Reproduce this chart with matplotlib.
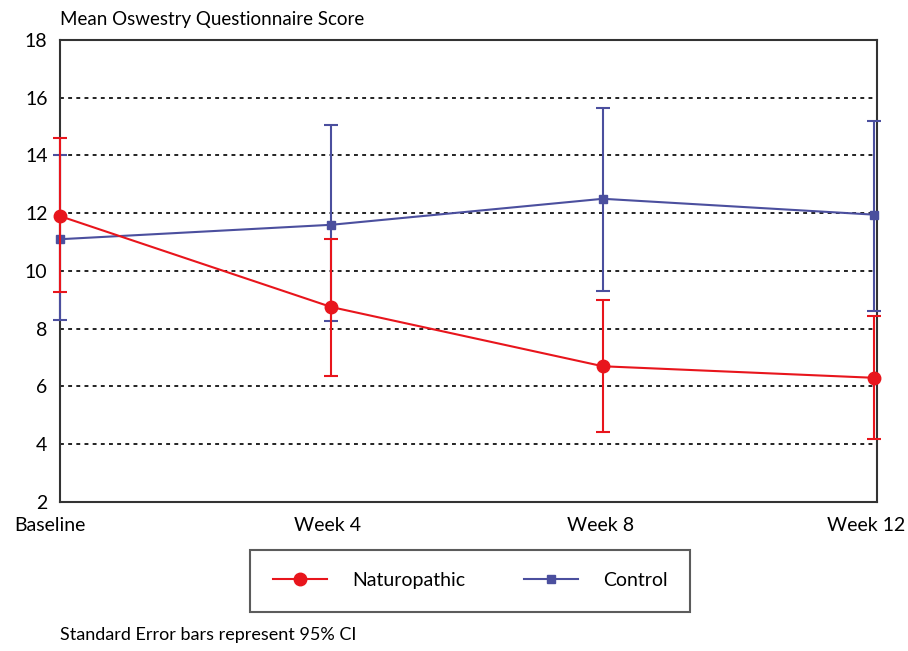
import matplotlib
matplotlib.use("Agg")
import matplotlib.pyplot as plt
import matplotlib.transforms as mtransforms
from matplotlib.ticker import FixedLocator
from matplotlib.lines import Line2D

timepoints = ["Baseline", "Week 4", "Week 8", "Week 12"]
naturo_mean = [11.9, 8.75, 6.7, 6.3]
naturo_upper = [14.6, 11.1, 9.0, 8.45]
naturo_lower = [9.27, 6.35, 4.42, 4.18]
control_mean = [11.1, 11.6, 12.5, 11.95]
control_upper = [14.0, 15.05, 15.65, 15.2]
control_lower = [8.3, 8.27, 9.3, 8.6]
yticks = [2, 4, 6, 8, 10, 12, 14, 16, 18]

plt.rcParams['font.family'] = ['Lato', 'DejaVu Sans']

RED = "#e8151c"
BLUE = "#4b4f9e"

fig = plt.figure(figsize=(9.08, 6.51), dpi=100)
ax = fig.add_axes([0.0661, 0.2289, 0.8998, 0.7097])

x = list(range(len(timepoints)))

def err(mean, lo, hi):
    return [[m - l for m, l in zip(mean, lo)], [h - m for m, h in zip(mean, hi)]]

ax.errorbar(x, control_mean, yerr=err(control_mean, control_lower, control_upper),
            color=BLUE, lw=1.5, marker='s', markersize=6, capsize=5, capthick=1.5,
            elinewidth=1.5, clip_on=False, zorder=3)
ax.errorbar(x, naturo_mean, yerr=err(naturo_mean, naturo_lower, naturo_upper),
            color=RED, lw=1.5, marker='o', markersize=9, capsize=5, capthick=1.5,
            elinewidth=1.5, clip_on=False, zorder=4)

ax.set_xlim(0, 3.01)
ax.set_ylim(2, 18)
ax.yaxis.set_major_locator(FixedLocator(yticks))
ax.set_yticklabels([str(t) for t in yticks], fontsize=14)
ax.set_xticks(x)
ax.set_xticklabels(timepoints, fontsize=14)
ax.tick_params(axis='both', length=0, pad=9)
ax.tick_params(axis='x', pad=11)
shifts = [-10, -4, -2, -8]
for lab, dx in zip(ax.get_xticklabels(), shifts):
    lab.set_transform(lab.get_transform() + mtransforms.ScaledTranslation(dx / 100, 0, fig.dpi_scale_trans))
for t in [4, 6, 8, 10, 12, 14, 16]:
    ax.axhline(t, color='#222222', lw=1.4, ls=(0, (2, 2.2)), zorder=1)
for s in ax.spines.values():
    s.set_color('#333333')
    s.set_linewidth(1.5)

fig.text(0.066, 0.970, "Mean Oswestry Questionnaire Score", fontsize=13.5, ha='left', va='center')
fig.text(0.066, 0.024, "Standard Error bars represent 95% CI", fontsize=13, ha='left', va='center')

handles = [Line2D([], [], color=RED, lw=1.5, marker='o', markersize=9),
           Line2D([], [], color=BLUE, lw=1.5, marker='s', markersize=6)]
leg = fig.legend(handles, ["Naturopathic", "Control"], loc='center', bbox_to_anchor=(0.518, 0.108),
                 ncol=2, fontsize=14, frameon=True, fancybox=False, edgecolor='#333333',
                 handlelength=2.8, columnspacing=3.0, borderpad=1.15, handletextpad=1.3,
                 borderaxespad=0)
leg.get_frame().set_linewidth(1.5)

fig.savefig("out.png", dpi=100)
